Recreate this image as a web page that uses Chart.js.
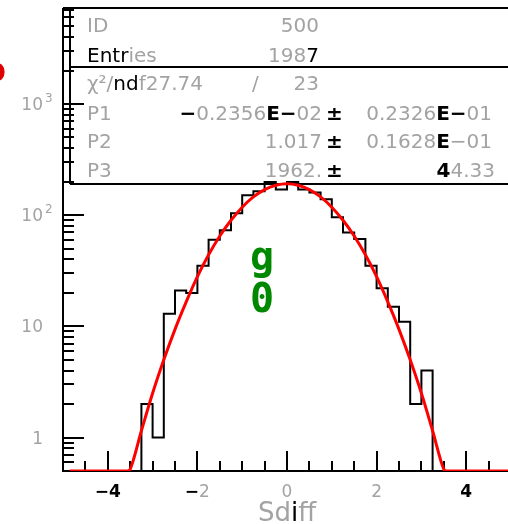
<!DOCTYPE html>
<html>
<head>
<meta charset="utf-8">
<script src="https://cdn.jsdelivr.net/npm/chart.js"></script>
<style>
  html, body { margin: 0; padding: 0; background: #fff; overflow: hidden; }
  #wrap { width: 520px; height: 524px; }
</style>
</head>
<body>
<div id="wrap"><canvas id="sdiffChart" width="520" height="524"></canvas></div>
<script>
// Sdiff histogram: bin low edges (width 0.25) and counts
var binEdges = [-5, -4.75, -4.5, -4.25, -4, -3.75, -3.5, -3.25, -3, -2.75,
                -2.5, -2.25, -2, -1.75, -1.5, -1.25, -1, -0.75, -0.5, -0.25,
                0, 0.25, 0.5, 0.75, 1, 1.25, 1.5, 1.75, 2, 2.25,
                2.5, 2.75, 3, 3.25, 3.5, 3.75, 4, 4.25, 4.5, 4.75, 5];
var binCounts = [0, 0, 0, 0, 0, 0, 0, 2, 1, 13,
                 21, 20, 35, 60, 73, 104, 151, 164, 199, 170,
                 199, 170, 160, 139, 96, 70, 61, 35, 22, 15,
                 11, 2, 4, 0, 0, 0, 0, 0, 0, 0];

// gaussian fit curve (clipped at the axis floor)
var fitX = [-4.85, -3.55, -3.5, -3.25, -3, -2.75, -2.5, -2.25, -2, -1.75, -1.5, -1.25, -1, -0.75, -0.5, -0.25,
            0, 0.25, 0.5, 0.75, 1, 1.25, 1.5, 1.75, 2, 2.25, 2.5, 2.75, 3, 3.25, 3.5, 3.55, 5];
var fitY = [0.5, 0.5, 0.52, 1.15, 2.5, 5, 9.4, 16.6, 28, 44, 65, 90, 118, 146, 170, 186,
            192, 186, 170, 146, 118, 90, 65, 44, 28, 16.6, 9.4, 5, 2.5, 1.15, 0.52, 0.5, 0.5];

var xRange = [-5, 5];
var yRange = [0.5, 7300];
var xMajorTicks = [-4, -2, 0, 2, 4];
var xTickLabels = ['\u22124', '\u22122', '0', '2', '4'];
var xMinorTicks = [-4.5, -3.5, -3, -2.5, -1.5, -1, -0.5, 0.5, 1, 1.5, 2.5, 3, 3.5, 4.5];
var yMajorTicks = [1, 10, 100, 1000];
var yTickLabels = [['1', ''], ['10', ''], ['10', '2'], ['10', '3']];
var yMinorTicks = [0.6, 0.7, 0.8, 0.9, 2, 3, 4, 5, 6, 7, 8, 9,
                   20, 30, 40, 50, 60, 70, 80, 90, 200, 300, 400, 500, 600, 700, 800, 900,
                   2000, 3000, 4000, 5000, 6000, 7000];

// stat box text: [text, colour, bold]
var statRows = [
  { name: [['ID']], value: [['500']] },
  { name: [['Entr', '#000'], ['ies']], value: [['198'], ['7', '#000']] },
  { name: [['\u03c7\u00b2/'], ['nd', '#000'], ['f27.74']], mid: [['/']], value: [['23']] },
  { name: [['P1']], value: [['\u2212', '#000', 1], ['0.2356'], ['E\u2212', '#000', 1], ['02']],
    err: [['0.2326'], ['E\u2212', '#000', 1], ['01']] },
  { name: [['P2']], value: [['1.017']], err: [['0.1628'], ['E', '#000', 1], ['\u221201']] },
  { name: [['P3']], value: [['1962.']], err: [['4', '#000', 1], ['4.33']] }
];

var grey = '#a3a3a3';
var baseFont = '20px "DejaVu Sans"';

function drawSegs(ctx, segs, x, y, align, font) {
  font = font || baseFont;
  var total = 0;
  segs.forEach(function (s) {
    ctx.font = s[2] ? 'bold ' + font : font;
    total += ctx.measureText(s[0]).width;
  });
  var cx = align === 'right' ? x - total : (align === 'center' ? x - total / 2 : x);
  ctx.textAlign = 'left';
  segs.forEach(function (s) {
    ctx.font = s[2] ? 'bold ' + font : font;
    ctx.fillStyle = s[1] || grey;
    ctx.fillText(s[0], cx, y);
    cx += ctx.measureText(s[0]).width;
  });
}

var histPoints = binEdges.map(function (e, i) {
  var c = i < binCounts.length ? binCounts[i] : binCounts[binCounts.length - 1];
  return { x: e, y: c > 0 ? c : yRange[0] };
});
var fitPoints = fitX.map(function (x, i) { return { x: x, y: fitY[i] }; });

var rootStyle = {
  id: 'rootStyle',
  beforeDatasetsDraw: function (chart) {
    var ctx = chart.ctx, ca = chart.chartArea;
    var xs = chart.scales.x, ys = chart.scales.y;
    ctx.save();
    // stat box
    ctx.fillStyle = '#fff';
    ctx.fillRect(ca.left + 7, ca.top, ca.right - ca.left, 176);
    ctx.strokeStyle = '#000';
    ctx.lineWidth = 2;
    ctx.beginPath();
    ctx.moveTo(ca.left + 7, ca.top); ctx.lineTo(ca.left + 7, ca.top + 176);
    ctx.moveTo(ca.left + 7, ca.top + 59); ctx.lineTo(ca.right, ca.top + 59);
    ctx.moveTo(ca.left + 7, ca.top + 176); ctx.lineTo(ca.right, ca.top + 176);
    ctx.stroke();
    ctx.textBaseline = 'alphabetic';
    var baselines = [32, 62, 90, 120, 148, 177];
    statRows.forEach(function (r, i) {
      var y = baselines[i];
      drawSegs(ctx, r.name, 87, y, 'left');
      if (r.mid) drawSegs(ctx, r.mid, 252, y, 'left');
      if (r.err) {
        drawSegs(ctx, r.value, 322, y, 'right');
        drawSegs(ctx, [['\u00b1', '#000', 1]], 326, y, 'left');
        drawSegs(ctx, r.err, i === 5 ? 495 : 492, y, 'right');
      } else {
        drawSegs(ctx, r.value, 319, y, 'right');
      }
    });

    // frame and ticks pointing into the frame
    ctx.strokeStyle = '#000';
    ctx.lineWidth = 2;
    ctx.beginPath();
    ctx.moveTo(ca.left, ca.top); ctx.lineTo(ca.left, ca.bottom);
    ctx.lineTo(ca.right, ca.bottom);
    ctx.moveTo(ca.left, ca.top); ctx.lineTo(ca.right, ca.top);
    yMajorTicks.forEach(function (v) {
      var p = Math.round(ys.getPixelForValue(v));
      ctx.moveTo(ca.left, p); ctx.lineTo(ca.left + 21, p);
    });
    yMinorTicks.forEach(function (v) {
      var p = Math.round(ys.getPixelForValue(v));
      ctx.moveTo(ca.left, p); ctx.lineTo(ca.left + 11, p);
    });
    xMajorTicks.forEach(function (v) {
      var p = Math.round(xs.getPixelForValue(v));
      ctx.moveTo(p, ca.bottom); ctx.lineTo(p, ca.bottom - 20);
    });
    xMinorTicks.forEach(function (v) {
      var p = Math.round(xs.getPixelForValue(v));
      ctx.moveTo(p, ca.bottom); ctx.lineTo(p, ca.bottom - 10);
    });
    ctx.stroke();
    ctx.restore();
  },
  afterDatasetsDraw: function (chart) {
    var ctx = chart.ctx, ca = chart.chartArea;
    var xs = chart.scales.x, ys = chart.scales.y;
    ctx.save();
    // y tick labels
    yMajorTicks.forEach(function (v, i) {
      var p = ys.getPixelForValue(v);
      var lab = yTickLabels[i];
      ctx.font = '17px "DejaVu Sans"';
      ctx.fillStyle = grey;
      ctx.textAlign = 'right';
      ctx.fillText(lab[0], 43, p + 6);
      if (lab[1]) {
        ctx.font = '12px "DejaVu Sans"';
        ctx.textAlign = 'left';
        ctx.fillText(lab[1], 45, p - 2);
      }
    });
    // x tick labels
    xMajorTicks.forEach(function (v, i) {
      var p = xs.getPixelForValue(v);
      var segs = xTickLabels[i].split('').map(function (ch) {
        return ch === '\u2212' || ch === '4' ? [ch, '#000', 1] : [ch];
      });
      drawSegs(ctx, segs, p, 497, 'center', '17px "DejaVu Sans"');
    });
    // axis title
    drawSegs(ctx, [['Sd'], ['i', '#000'], ['ff']], (ca.left + ca.right) / 2, 521, 'center', '26px "DejaVu Sans"');

    // green label and red mark
    ctx.font = 'bold 40px "DejaVu Sans Mono"';
    ctx.fillStyle = '#008800';
    ctx.textAlign = 'center';
    ctx.fillText('g', 262, 270);
    ctx.fillText('0', 262, 312);
    ctx.font = 'bold 27px "DejaVu Sans"';
    ctx.fillStyle = '#e00000';
    ctx.textAlign = 'right';
    ctx.fillText('O', 6, 82);
    ctx.restore();
  }
};

var ctx = document.getElementById('sdiffChart').getContext('2d');
var sdiffChart = new Chart(ctx, {
  type: 'line',
  data: {
    datasets: [{
      data: histPoints,
      stepped: 'before',
      borderColor: '#000',
      borderWidth: 2,
      pointRadius: 0,
      fill: false,
      order: 2
    }, {
      data: fitPoints,
      borderColor: '#ff0000',
      borderWidth: 3,
      pointRadius: 0,
      cubicInterpolationMode: 'monotone',
      fill: false,
      order: 1
    }]
  },
  options: {
    responsive: false,
    animation: false,
    devicePixelRatio: 1,
    layout: { padding: { left: 63, top: 8, right: 9, bottom: 53 } },
    scales: {
      x: { type: 'linear', display: false, min: xRange[0], max: xRange[1] },
      y: { type: 'logarithmic', display: false, min: yRange[0], max: yRange[1], bounds: 'data' }
    },
    plugins: {
      legend: { display: false },
      tooltip: { enabled: false }
    }
  },
  plugins: [rootStyle]
});
</script>
</body>
</html>
